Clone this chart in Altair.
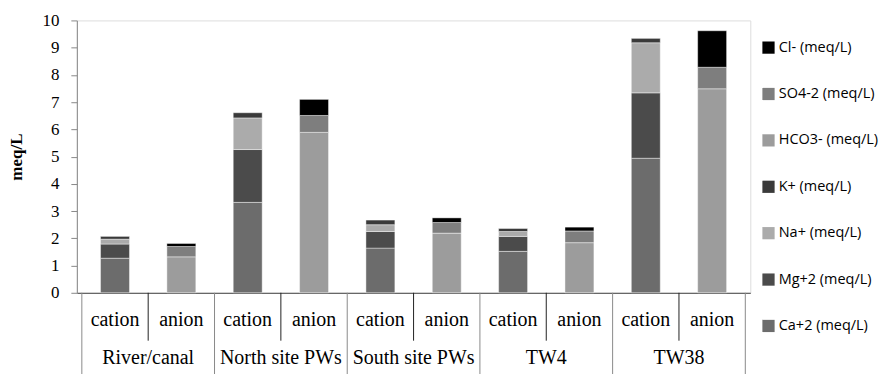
import altair as alt
import pandas as pd

groups = ["River/canal", "North site PWs", "South site PWs", "TW4", "TW38"]
kinds = ["cation", "anion"]

# cation components (meq/L), stacked bottom to top
ca = [1.27, 3.32, 1.64, 1.52, 4.94]
mg = [0.52, 1.94, 0.61, 0.55, 2.40]
na = [0.18, 1.16, 0.25, 0.18, 1.84]
k = [0.10, 0.19, 0.17, 0.11, 0.16]
# anion components (meq/L), stacked bottom to top
hco3 = [1.32, 5.89, 2.19, 1.84, 7.49]
so4 = [0.38, 0.62, 0.39, 0.43, 0.79]
cl = [0.11, 0.59, 0.17, 0.14, 1.34]

ion_names = ["Ca+2 (meq/L)", "Mg+2 (meq/L)", "Na+ (meq/L)", "K+ (meq/L)",
             "HCO3- (meq/L)", "SO4-2 (meq/L)", "Cl- (meq/L)"]
ion_colors = ["#6c6c6c", "#4b4b4b", "#ababab", "#3a3a3a",
              "#9c9c9c", "#7e7e7e", "#000000"]

cation_series = [ca, mg, na, k]
anion_series = [hco3, so4, cl]

rows = []
for gi, g in enumerate(groups):
    for si, s in enumerate(cation_series):
        rows.append({"pos": gi * 2 + 0.5, "ion": ion_names[si], "ord": si, "value": s[gi]})
    for si, s in enumerate(anion_series):
        rows.append({"pos": gi * 2 + 1.5, "ion": ion_names[4 + si], "ord": 4 + si, "value": s[gi]})
bars_df = pd.DataFrame(rows)

sub_df = pd.DataFrame([{"pos": gi * 2 + j + 0.5, "kind": kd}
                       for gi in range(len(groups)) for j, kd in enumerate(kinds)])
grp_df = pd.DataFrame([{"pos": gi * 2 + 1.0, "group": g} for gi, g in enumerate(groups)])
sep_df = pd.DataFrame([{"b": float(b), "major": b % 2 == 0} for b in range(len(groups) * 2 + 1)])

W, H = 675, 273
xscale = alt.Scale(domain=[0, 10], nice=False, zero=False)

legend_order = list(reversed(ion_names))
legend_colors = list(reversed(ion_colors))

bars = alt.Chart(bars_df).mark_bar(size=29, stroke="white", strokeWidth=0.7, strokeOpacity=0.6).encode(
    x=alt.X("pos:Q", scale=xscale,
            axis=alt.Axis(labels=False, ticks=False, grid=False, title=None,
                          domainColor="#444444", domainWidth=1)),
    y=alt.Y("value:Q", stack="zero",
            scale=alt.Scale(domain=[0, 10], nice=False),
            axis=alt.Axis(values=list(range(11)), grid=False, title="meq/L",
                          titleFont="Liberation Serif", titleFontSize=17, titleFontWeight="bold",
                          titleColor="#000", titlePadding=16,
                          labelFont="Liberation Serif", labelFontSize=17, labelColor="#000",
                          labelPadding=12, tickSize=6, tickColor="#888888",
                          domainColor="#888888")),
    color=alt.Color("ion:N", scale=alt.Scale(domain=legend_order, range=legend_colors),
                    legend=alt.Legend(title=None, orient="none", legendX=686, legendY=20,
                                      symbolType="square", symbolSize=150, symbolStrokeWidth=0,
                                      labelFont="Open Sans", labelFontSize=14.5, labelColor="#000",
                                      rowPadding=31.5, labelOffset=3)),
    order=alt.Order("ord:Q", sort="ascending"),
)

major = alt.Chart(sep_df).transform_filter("datum.major").mark_rule(color="#8a8a8a", strokeWidth=1).encode(
    x=alt.X("b:Q", scale=xscale), y=alt.value(H), y2=alt.value(H + 100))
minor = alt.Chart(sep_df).transform_filter("!datum.major").mark_rule(color="#222222", strokeWidth=1).encode(
    x=alt.X("b:Q", scale=xscale), y=alt.value(H), y2=alt.value(H + 48))

sub_text = alt.Chart(sub_df).mark_text(font="Liberation Serif", fontSize=20, color="#000", baseline="middle").encode(
    x=alt.X("pos:Q", scale=xscale), y=alt.value(H + 27), text="kind:N")
grp_text = alt.Chart(grp_df).mark_text(font="Liberation Serif", fontSize=20, color="#000", baseline="middle").encode(
    x=alt.X("pos:Q", scale=xscale), y=alt.value(H + 65), text="group:N")

chart = alt.layer(bars, major, minor, sub_text, grp_text).properties(
    width=W, height=H, padding={"left": 0, "top": 3, "right": 0, "bottom": 0}
).configure_view(stroke=None).configure(background="white")

chart.save("out.html", embed_options={"renderer": "svg", "actions": False})
